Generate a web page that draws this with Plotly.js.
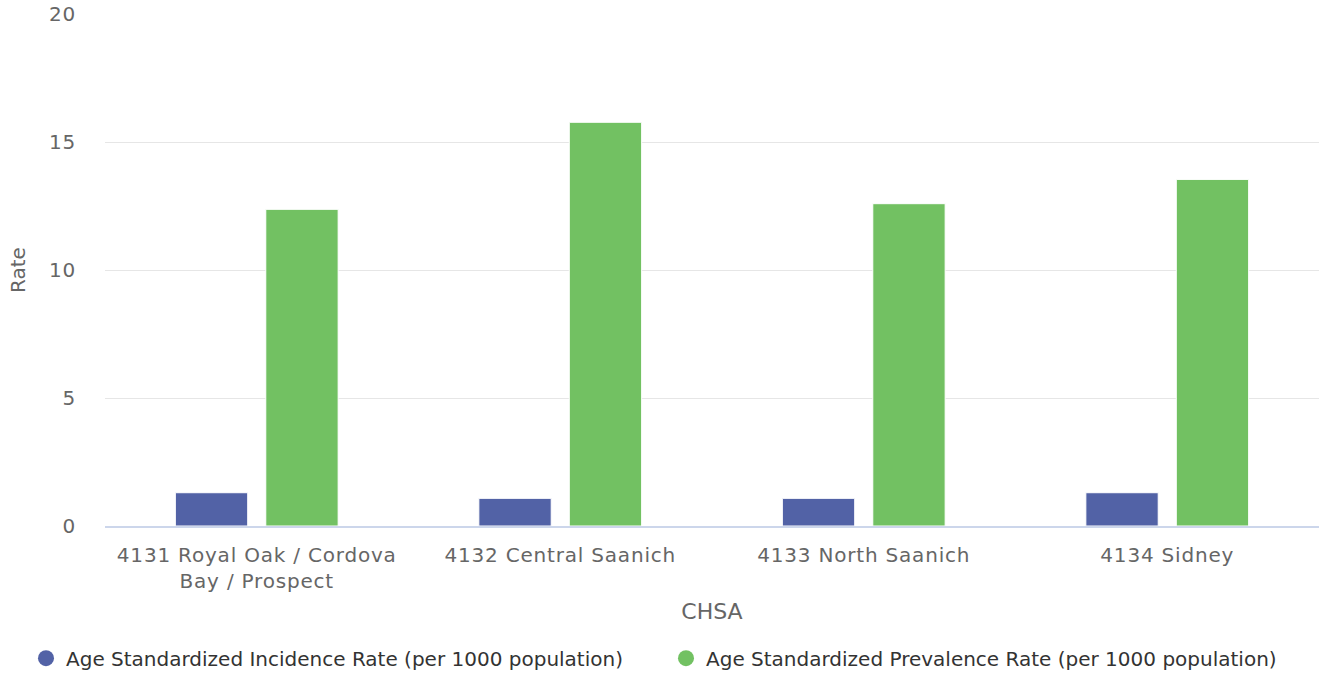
<!DOCTYPE html>
<html>
<head>
<meta charset="utf-8">
<script src="https://cdn.plot.ly/plotly-3.0.1.min.js"></script>
<style>
  html, body { margin: 0; padding: 0; background: #fff; }
  #chart { width: 1319px; height: 675px; }
  .xtick text, .ytick text { letter-spacing: 0.8px; }
</style>
</head>
<body>
<div id="chart"></div>
<script>
    const categories = [
        '4131 Royal Oak / Cordova<br>Bay / Prospect',
        '4132 Central Saanich',
        '4133 North Saanich',
        '4134 Sidney'
    ];
    const incidence = [1.30, 1.08, 1.08, 1.30];
    const prevalence = [12.37, 15.77, 12.59, 13.54];
    const seriesNames = [
        'Age Standardized Incidence Rate (per 1000 population)',
        'Age Standardized Prevalence Rate (per 1000 population)'
    ];
    const colors = ['#5262a6', '#72c162'];
    const yTicks = [0, 5, 10, 15, 20];

    let font = 'DejaVu Sans, Verdana, sans-serif';
    let legendIds = ['legend', 'legend2'];

    let bars = [incidence, prevalence].map((vals, i) => ({
        type: 'bar',
        x: categories,
        y: vals,
        name: seriesNames[i],
        marker: { color: colors[i], line: { color: '#ffffff', width: 1 } },
        showlegend: false,
        hoverinfo: 'x+y'
    }));

    // legend entries drawn as round markers, one legend box per series
    let legendItems = seriesNames.map((name, i) => ({
        type: 'scatter',
        mode: 'markers',
        x: [null],
        y: [null],
        name: name,
        legend: legendIds[i],
        marker: { color: colors[i], size: 16, symbol: 'circle' },
        showlegend: true
    }));

    function legendBox(xpos) {
        return {
            orientation: 'h',
            xref: 'container',
            yref: 'container',
            x: xpos,
            xanchor: 'left',
            y: 0.025,
            yanchor: 'middle',
            font: { family: font, size: 20, color: '#333333' },
            itemsizing: 'trace'
        };
    }

    let layout = {
        width: 1319,
        height: 675,
        margin: { l: 105, r: 0, t: 14, b: 149 },
        paper_bgcolor: '#ffffff',
        plot_bgcolor: '#ffffff',
        font: { family: font, size: 20, color: '#666666' },
        barmode: 'group',
        bargap: 0.404,
        bargroupgap: 0.2,
        showlegend: true,
        xaxis: {
            type: 'category',
            title: { text: 'CHSA', font: { size: 22, color: '#666666' }, standoff: 12 },
            showline: true,
            linecolor: '#ccd6eb',
            linewidth: 2,
            ticks: '',
            ticklabelstandoff: 10,
            tickfont: { size: 20, color: '#666666' },
            automargin: false,
            fixedrange: true
        },
        yaxis: {
            range: [0, 20],
            tickvals: yTicks,
            title: { text: 'Rate', font: { size: 20, color: '#666666' }, standoff: 17 },
            showgrid: true,
            gridcolor: '#e6e6e6',
            gridwidth: 1,
            zeroline: false,
            showline: false,
            ticks: '',
            ticklabelstandoff: 28,
            tickfont: { size: 20, color: '#666666' },
            automargin: false,
            fixedrange: true
        },
        legend: legendBox(26 / 1319),
        legend2: legendBox(666 / 1319)
    };

    Plotly.newPlot('chart', bars.concat(legendItems), layout, { displayModeBar: false, staticPlot: true });
</script>
</body>
</html>
